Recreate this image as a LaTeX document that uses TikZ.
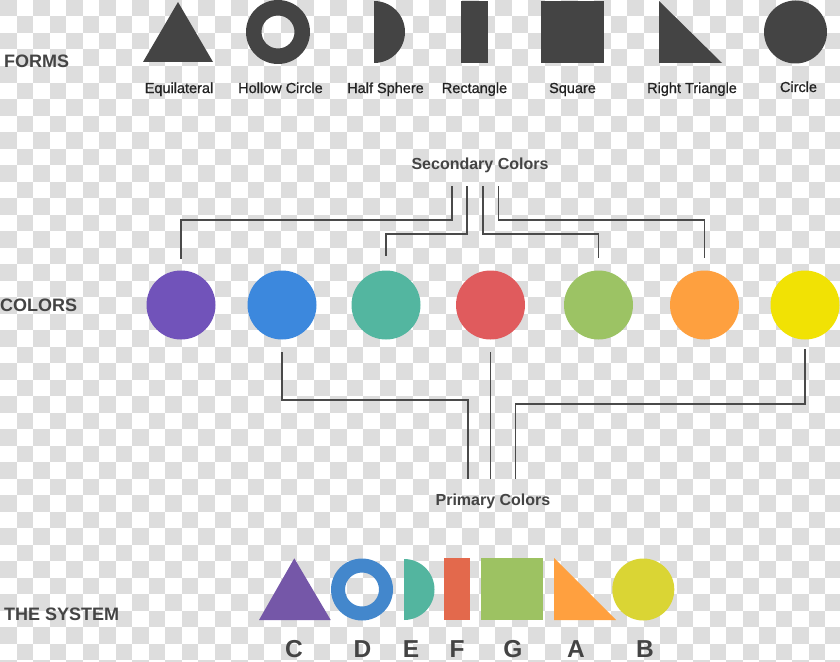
\documentclass[tikz,border=0pt]{standalone}
\usepackage{fontspec}
\setmainfont{Liberation Sans}
\newfontface\medfont{Liberation Sans}[FakeBold=0.8]
\definecolor{hdr}{HTML}{444444}
\definecolor{lbltxt}{HTML}{222222}
\definecolor{formc}{HTML}{444444}
\definecolor{linec}{HTML}{4A4A4A}
\definecolor{checker}{HTML}{DDDDDD}
\definecolor{cpurple}{HTML}{7153BA}
\definecolor{cblue}{HTML}{3C88DD}
\definecolor{cteal}{HTML}{53B6A0}
\definecolor{cred}{HTML}{E05B5D}
\definecolor{cgreen}{HTML}{9CC364}
\definecolor{corange}{HTML}{FEA03F}
\definecolor{cyellow}{HTML}{F1E204}
\definecolor{spurple}{HTML}{7557A8}
\definecolor{sblue}{HTML}{4387CC}
\definecolor{steal}{HTML}{53B59F}
\definecolor{sred}{HTML}{E3694C}
\definecolor{sgreen}{HTML}{9DC262}
\definecolor{sorange}{HTML}{FFA03F}
\definecolor{syellow}{HTML}{DAD534}
\begin{document}
\begin{tikzpicture}[x=1pt,y=-1pt,
  header/.style={anchor=base west, font=\bfseries\fontsize{18}{20}\selectfont, text=hdr, inner sep=0pt},
  lbl/.style={anchor=base, font=\medfont\fontsize{14.5}{16}\selectfont, text=lbltxt, inner sep=0pt},
  grp/.style={anchor=base, font=\bfseries\fontsize{16}{18}\selectfont, text=hdr, inner sep=0pt},
  letter/.style={anchor=base, font=\bfseries\fontsize{24.5}{27}\selectfont, text=hdr, inner sep=0pt},
  dot/.style={circle, minimum size=69pt, inner sep=0pt, draw=none},
  conn/.style={draw=linec, line width=1.5pt},
  form/.style={fill=formc}]
\useasboundingbox (0,0) rectangle (840,661);
% checkerboard background
\fill[white] (0,0) rectangle (840,661);
\begin{scope}
\clip (0,0) rectangle (840,661);
\foreach \j in {0,2,...,40} {
  \foreach \i in {0,2,...,50} {
    \fill[checker] ({\i*16.5},{\j*16.5}) rectangle ++(16.5,16.5);
    \fill[checker] ({(\i+1)*16.5},{(\j+1)*16.5}) rectangle ++(16.5,16.5);
  }
}
\end{scope}

% headers
\node[header] (hforms) at (4,67) {FORMS};
\node[header] (hcolors) at (0,311.5) {COLORS};
\node[header] (hsystem) at (4,620) {THE SYSTEM};

% forms
\fill[form] (143,62) -- (213,62) -- (178,2) -- cycle;
\fill[form, even odd rule] (278,32) circle (32pt) (278,32) circle (16.5pt);
\fill[form] (374,1) arc[start angle=90, end angle=-90, radius=31pt] -- cycle;
\fill[form] (461,1) rectangle (488,63);
\fill[form] (541,1) rectangle (604,63);
\fill[form] (659,1) -- (659,63) -- (722,63) -- cycle;
\fill[form] (795.5,32) circle (31.5pt);

\node[lbl] (l1) at (179,93) {Equilateral};
\node[lbl] (l2) at (280.5,93) {Hollow Circle};
\node[lbl] (l3) at (385.5,93) {Half Sphere};
\node[lbl] (l4) at (474.5,93) {Rectangle};
\node[lbl] (l5) at (572.5,93) {Square};
\node[lbl] (l6) at (692,93) {Right Triangle};
\node[lbl] (l7) at (798.5,92) {Circle};

% colors
\node[dot, fill=cpurple] (c1) at (181,305) {};
\node[dot, fill=cblue]   (c2) at (282,305) {};
\node[dot, fill=cteal]   (c3) at (386,305) {};
\node[dot, fill=cred]    (c4) at (490.5,305) {};
\node[dot, fill=cgreen]  (c5) at (598.5,305) {};
\node[dot, fill=corange] (c6) at (704.5,305) {};
\node[dot, fill=cyellow] (c7) at (805,305) {};

% secondary colors
\node[grp] (sec) at (480,169) {Secondary Colors};
\coordinate (sA) at (452,186);
\coordinate (sB) at (467,186);
\coordinate (sC) at (483,186);
\coordinate (sD) at (498.5,186);
\draw[conn] (sA) -- ++(0,34) -| ([yshift=11.5pt]c1.north);
\draw[conn] (sB) -- ++(0,48) -| ([yshift=14.5pt]c3.north);
\draw[conn] (sC) -- ++(0,48) -| ([yshift=12.5pt]c5.north);
\draw[conn] (sD) -- ++(0,34) -| ([yshift=12.5pt]c6.north);

% primary colors
\node[grp] (pri) at (493,505) {Primary Colors};
\coordinate (pE) at (468,479);
\coordinate (pF) at (490.5,479);
\coordinate (pG) at (515.5,479);
\draw[conn] ([yshift=-12.5pt]c2.south) -- ++(0,48) -| (pE);
\draw[conn] ([yshift=-12.5pt]c4.south) -- (pF);
\draw[conn] ([yshift=-9.5pt]c7.south) -- ++(0,55) -| (pG);

% the system
\fill[spurple] (259,620) -- (330.7,620) -- (294.3,558.3) -- cycle;
\fill[sblue, even odd rule] (362,589.5) circle (31pt) (362,589.5) circle (17pt);
\fill[steal] (404,559) arc[start angle=90, end angle=-90, radius=30.5pt] -- cycle;
\fill[sred] (444,558) rectangle (470,620);
\fill[sgreen] (480.7,558) rectangle (543.3,620);
\fill[sorange] (554,558) -- (554,620) -- (616,620) -- cycle;
\fill[syellow] (643.3,589.5) circle (31pt);

\node[letter] (nC) at (294,657.5) {C};
\node[letter] (nD) at (362.5,657.5) {D};
\node[letter] (nE) at (411,657.5) {E};
\node[letter] (nF) at (457,657.5) {F};
\node[letter] (nG) at (513,657.5) {G};
\node[letter] (nA) at (576,657.5) {A};
\node[letter] (nB) at (645,657.5) {B};
\end{tikzpicture}
\end{document}
